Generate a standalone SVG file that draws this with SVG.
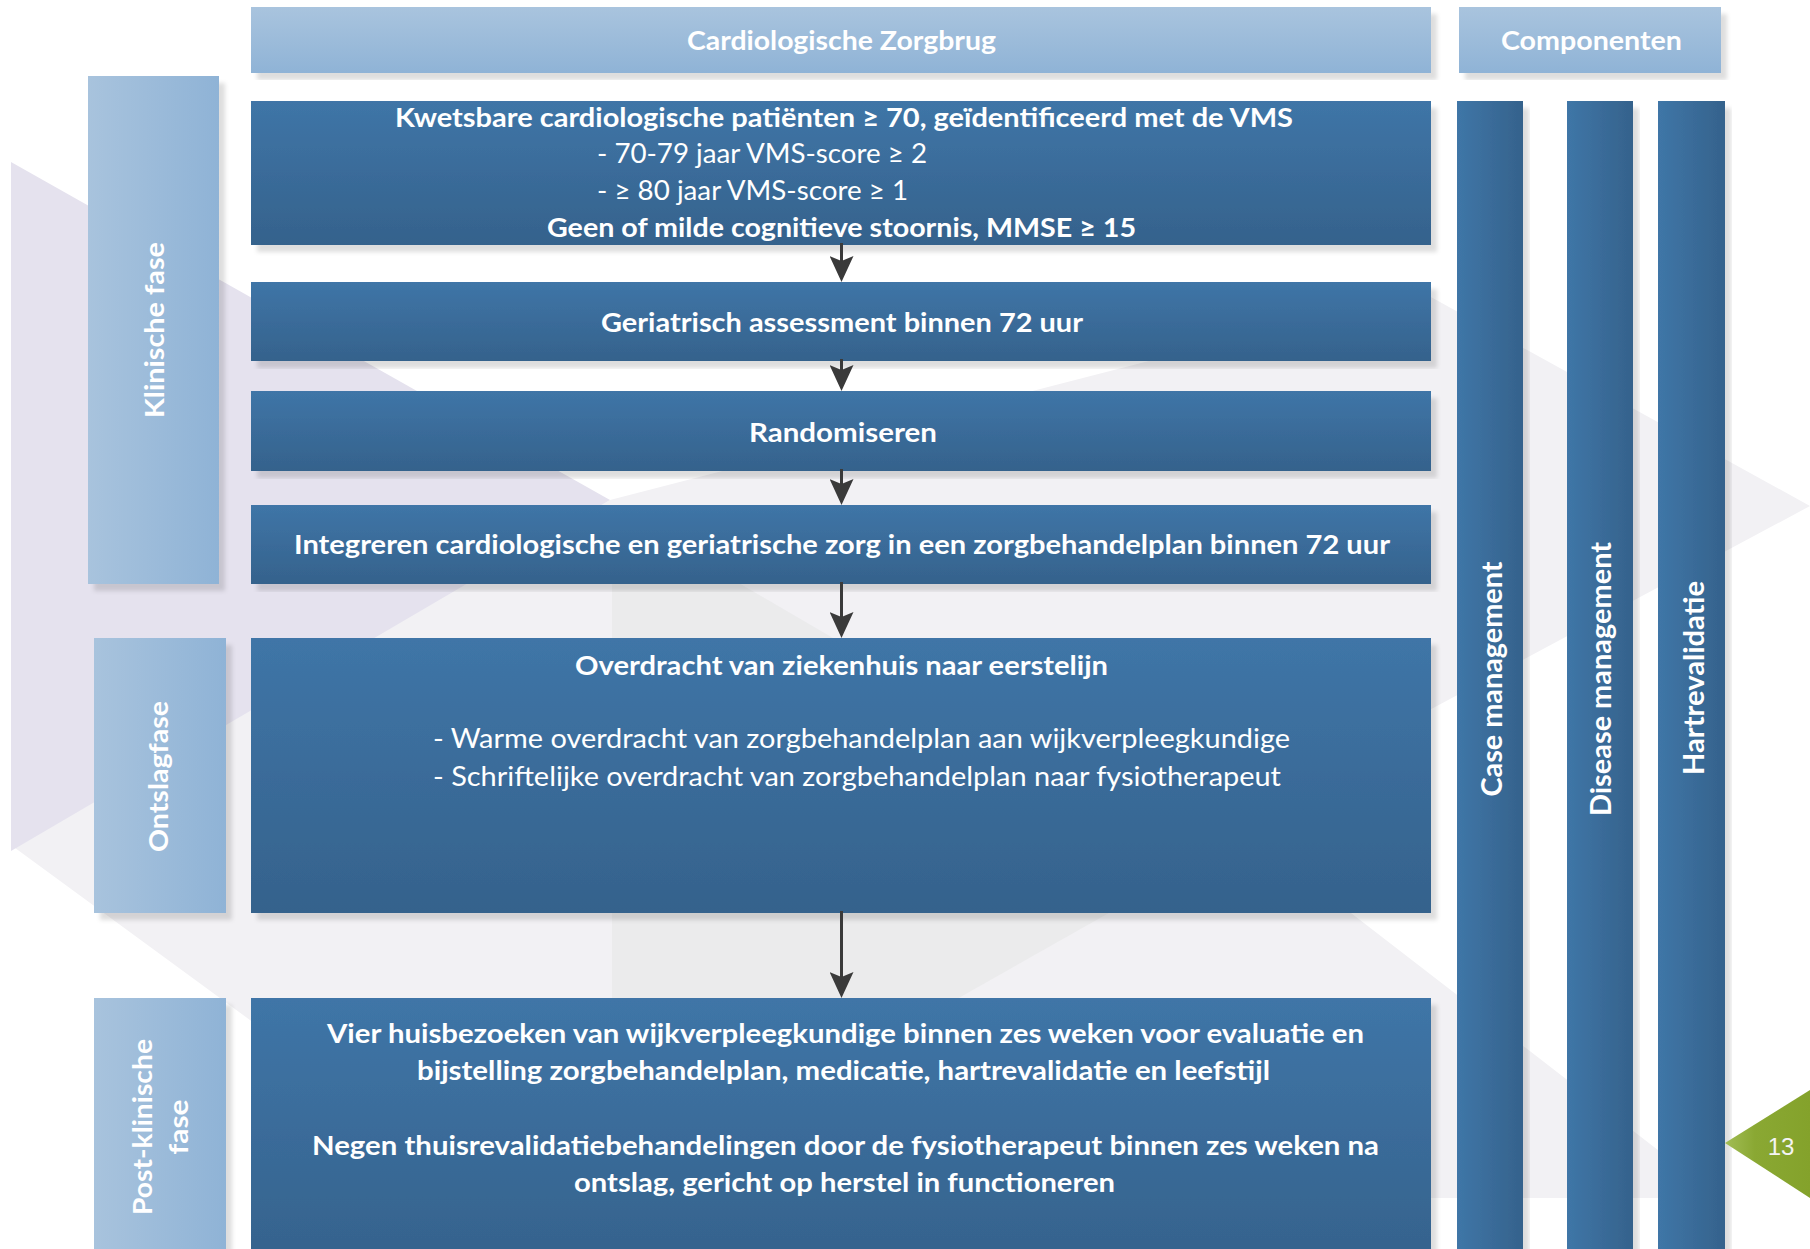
<svg xmlns="http://www.w3.org/2000/svg" width="1810" height="1249" viewBox="0 0 1810 1249">
  <defs>
    <linearGradient id="gDark" x1="0" y1="0" x2="0" y2="1">
      <stop offset="0" stop-color="#3f75a7"/>
      <stop offset="1" stop-color="#35628c"/>
    </linearGradient>
    <linearGradient id="gCol" x1="0" y1="0" x2="1" y2="0">
      <stop offset="0" stop-color="#3f76a7"/>
      <stop offset="1" stop-color="#35628c"/>
    </linearGradient>
    <linearGradient id="gSide" x1="0" y1="0" x2="1" y2="0">
      <stop offset="0" stop-color="#a8c3dd"/>
      <stop offset="1" stop-color="#8fb3d6"/>
    </linearGradient>
    <linearGradient id="gHead" x1="0" y1="0" x2="0" y2="1">
      <stop offset="0" stop-color="#a9c4de"/>
      <stop offset="1" stop-color="#8fb3d6"/>
    </linearGradient>
    <linearGradient id="gGreen" x1="0" y1="0" x2="1" y2="0">
      <stop offset="0" stop-color="#a2bd55"/>
      <stop offset="0.35" stop-color="#8aa833"/>
      <stop offset="1" stop-color="#84a22b"/>
    </linearGradient>
    <filter id="shadow" x="-5%" y="-5%" width="115%" height="115%">
      <feDropShadow dx="6" dy="7" stdDeviation="2" flood-color="#000" flood-opacity="0.13"/>
    </filter>
    <marker id="arrow" viewBox="0 0 26 24" refX="22" refY="12" markerWidth="26" markerHeight="24" markerUnits="userSpaceOnUse" orient="auto">
      <path d="M0,0 L26,12 L0,24 L5,12 z" fill="#3a3a3a"/>
    </marker>
    <style>
      .box { fill: url(#gDark); filter: url(#shadow); }
      .col { fill: url(#gCol); filter: url(#shadow); }
      .side { fill: url(#gSide); filter: url(#shadow); }
      .head { fill: url(#gHead); filter: url(#shadow); }
      .t { font-family: Lato, "Open Sans", "Liberation Sans", sans-serif; fill: #ffffff; font-size: 26px; }
      .b { font-weight: bold; }
      .r { font-weight: normal; }
      .m { text-anchor: middle; }
      .lbl { font-family: Lato, "Open Sans", "Liberation Sans", sans-serif; fill: #ffffff; font-weight: bold; font-size: 27px; text-anchor: middle; }
      .clbl { font-family: Lato, "Open Sans", "Liberation Sans", sans-serif; fill: #ffffff; font-weight: bold; font-size: 29px; text-anchor: middle; }
      .conn { stroke: #3a3a3a; stroke-width: 3; fill: none; marker-end: url(#arrow); }
    </style>
  </defs>

  <rect x="0" y="0" width="1810" height="1249" fill="#ffffff"/>

  <!-- background decoration -->
  <g id="background">
    <polygon points="11,845 493,1198 1720,1198 1228,818 1810,506 1420,291 610,500" fill="#f2f1f4"/>
    <polygon points="612,509 1208,857 612,1194" fill="#ebebec"/>
    <polygon points="11,162 11,851 610,500" fill="#e5e2ee"/>
  </g>

  <!-- headers -->
  <g id="header-zorgbrug">
    <rect class="head" x="251" y="7" width="1180" height="66"/>
    <text class="t b m" x="841.5" y="50" font-size="27" textLength="309" lengthAdjust="spacingAndGlyphs">Cardiologische Zorgbrug</text>
  </g>
  <g id="header-componenten">
    <rect class="head" x="1459" y="7" width="262" height="66"/>
    <text class="t b m" x="1591.5" y="50" font-size="27" textLength="181" lengthAdjust="spacingAndGlyphs">Componenten</text>
  </g>

  <!-- phase labels -->
  <g id="phase-klinisch">
    <rect class="side" x="88" y="76" width="131" height="508"/>
    <text class="lbl" transform="translate(164,330) rotate(-90)" textLength="176" lengthAdjust="spacingAndGlyphs">Klinische fase</text>
  </g>
  <g id="phase-ontslag">
    <rect class="side" x="94" y="638" width="132" height="275"/>
    <text class="lbl" transform="translate(168,776.5) rotate(-90)" textLength="151" lengthAdjust="spacingAndGlyphs">Ontslagfase</text>
  </g>
  <g id="phase-postklinisch">
    <rect class="side" x="94" y="998" width="132" height="270"/>
    <text class="lbl" transform="translate(151.5,1127) rotate(-90)" textLength="176" lengthAdjust="spacingAndGlyphs">Post-klinische</text>
    <text class="lbl" transform="translate(188,1127) rotate(-90)" textLength="55" lengthAdjust="spacingAndGlyphs">fase</text>
  </g>

  <!-- component columns -->
  <g id="comp-case">
    <rect class="col" x="1457" y="101" width="66" height="1170"/>
    <text class="clbl" transform="translate(1502,679) rotate(-90)" textLength="235" lengthAdjust="spacingAndGlyphs">Case management</text>
  </g>
  <g id="comp-disease">
    <rect class="col" x="1567" y="101" width="66" height="1170"/>
    <text class="clbl" transform="translate(1611,679) rotate(-90)" textLength="274" lengthAdjust="spacingAndGlyphs">Disease management</text>
  </g>
  <g id="comp-hart">
    <rect class="col" x="1658" y="101" width="67" height="1170"/>
    <text class="clbl" transform="translate(1704,678) rotate(-90)" textLength="194" lengthAdjust="spacingAndGlyphs">Hartrevalidatie</text>
  </g>

  <!-- flow nodes -->
  <g id="node-inclusie">
    <rect class="box" x="251" y="101" width="1180" height="144"/>
    <text class="t b m" x="844" y="127" textLength="898" lengthAdjust="spacingAndGlyphs">Kwetsbare cardiologische patiënten ≥ 70, geïdentificeerd met de VMS</text>
    <text class="t r" x="597" y="163" textLength="330" lengthAdjust="spacingAndGlyphs">- 70-79 jaar VMS-score ≥ 2</text>
    <text class="t r" x="597" y="200" textLength="311" lengthAdjust="spacingAndGlyphs">- ≥ 80 jaar VMS-score ≥ 1</text>
    <text class="t b m" x="841.5" y="237" textLength="589" lengthAdjust="spacingAndGlyphs">Geen of milde cognitieve stoornis, MMSE ≥ 15</text>
  </g>
  <g id="node-assessment">
    <rect class="box" x="251" y="282" width="1180" height="79"/>
    <text class="t b m" x="842" y="332" textLength="482" lengthAdjust="spacingAndGlyphs">Geriatrisch assessment binnen 72 uur</text>
  </g>
  <g id="node-randomiseren">
    <rect class="box" x="251" y="391" width="1180" height="80"/>
    <text class="t b m" x="843" y="442" textLength="188" lengthAdjust="spacingAndGlyphs">Randomiseren</text>
  </g>
  <g id="node-integreren">
    <rect class="box" x="251" y="505" width="1180" height="79"/>
    <text class="t b m" x="842" y="554" textLength="1096" lengthAdjust="spacingAndGlyphs">Integreren cardiologische en geriatrische zorg in een zorgbehandelplan binnen 72 uur</text>
  </g>
  <g id="node-overdracht">
    <rect class="box" x="251" y="638" width="1180" height="275"/>
    <text class="t b m" x="841.5" y="675" textLength="533" lengthAdjust="spacingAndGlyphs">Overdracht van ziekenhuis naar eerstelijn</text>
    <text class="t r" x="433" y="748" textLength="857" lengthAdjust="spacingAndGlyphs">- Warme overdracht van zorgbehandelplan aan wijkverpleegkundige</text>
    <text class="t r" x="433" y="786" textLength="848" lengthAdjust="spacingAndGlyphs">- Schriftelijke overdracht van zorgbehandelplan naar fysiotherapeut</text>
  </g>
  <g id="node-postklinisch">
    <rect class="box" x="251" y="998" width="1180" height="270"/>
    <text class="t b m" x="845.5" y="1043" textLength="1037" lengthAdjust="spacingAndGlyphs">Vier huisbezoeken van wijkverpleegkundige binnen zes weken voor evaluatie en</text>
    <text class="t b m" x="843.5" y="1080" textLength="853" lengthAdjust="spacingAndGlyphs">bijstelling zorgbehandelplan, medicatie, hartrevalidatie en leefstijl</text>
    <text class="t b m" x="845.5" y="1155" textLength="1067" lengthAdjust="spacingAndGlyphs">Negen thuisrevalidatiebehandelingen door de fysiotherapeut binnen zes weken na</text>
    <text class="t b m" x="844.5" y="1192" textLength="541" lengthAdjust="spacingAndGlyphs">ontslag, gericht op herstel in functioneren</text>
  </g>

  <!-- connectors -->
  <g id="connectors">
    <line class="conn" x1="841.5" y1="243" x2="841.5" y2="278"/>
    <line class="conn" x1="841.5" y1="359" x2="841.5" y2="387"/>
    <line class="conn" x1="841.5" y1="469" x2="841.5" y2="501"/>
    <line class="conn" x1="841.5" y1="582" x2="841.5" y2="634"/>
    <line class="conn" x1="841.5" y1="911" x2="841.5" y2="994"/>
  </g>

  <!-- page number -->
  <g id="page-number">
    <polygon points="1725,1143 1810,1090 1810,1198" fill="url(#gGreen)"/>
    <text x="1781" y="1155" font-family="Liberation Sans, Arial, sans-serif" font-size="24" fill="#f4f4f4" text-anchor="middle">13</text>
  </g>
</svg>
